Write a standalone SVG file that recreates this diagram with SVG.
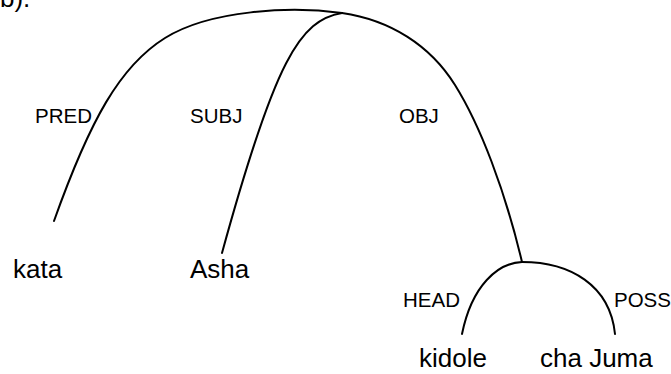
<svg xmlns="http://www.w3.org/2000/svg" width="671" height="374" viewBox="0 0 671 374">
  <style>
    .edge { fill: none; stroke: #000; stroke-width: 2; stroke-linecap: round; }
    .word { font-family: "Liberation Sans", Arial, sans-serif; font-size: 26px; fill: #000; }
    .rel { font-family: "Liberation Sans", Arial, sans-serif; font-size: 20.5px; fill: #000; }
  </style>
  <rect width="671" height="374" fill="#fff"/>

  <!-- clipped example marker at the top edge -->
  <text class="word" x="0" y="7">b).</text>

  <!-- dependency arcs -->
  <g id="connectors">
    <path class="edge" d="M342,13 C290,6 210,10 165,38 C120,66 90,120 54,221"/>
    <path class="edge" d="M342,13 C300,20 275,60 222,253"/>
    <path class="edge" d="M342,13 C390,20 430,45 455,85 C480,125 505,190 522,262"/>
    <path class="edge" d="M522,262 C498,263 472,285 462,334"/>
    <path class="edge" d="M522,262 C570,262 610,285 615,334"/>
  </g>

  <!-- relation labels -->
  <g id="labels">
    <text class="rel" x="35" y="123">PRED</text>
    <text class="rel" x="190" y="123">SUBJ</text>
    <text class="rel" x="399" y="123">OBJ</text>
    <text class="rel" x="403" y="307">HEAD</text>
    <text class="rel" x="614" y="307">POSS</text>
  </g>

  <!-- words -->
  <g id="kata"><text class="word" x="13" y="278">kata</text></g>
  <g id="asha"><text class="word" x="190" y="278">Asha</text></g>
  <g id="kidole"><text class="word" x="419" y="367">kidole</text></g>
  <g id="cha-juma"><text class="word" x="540" y="367">cha Juma</text></g>
</svg>
